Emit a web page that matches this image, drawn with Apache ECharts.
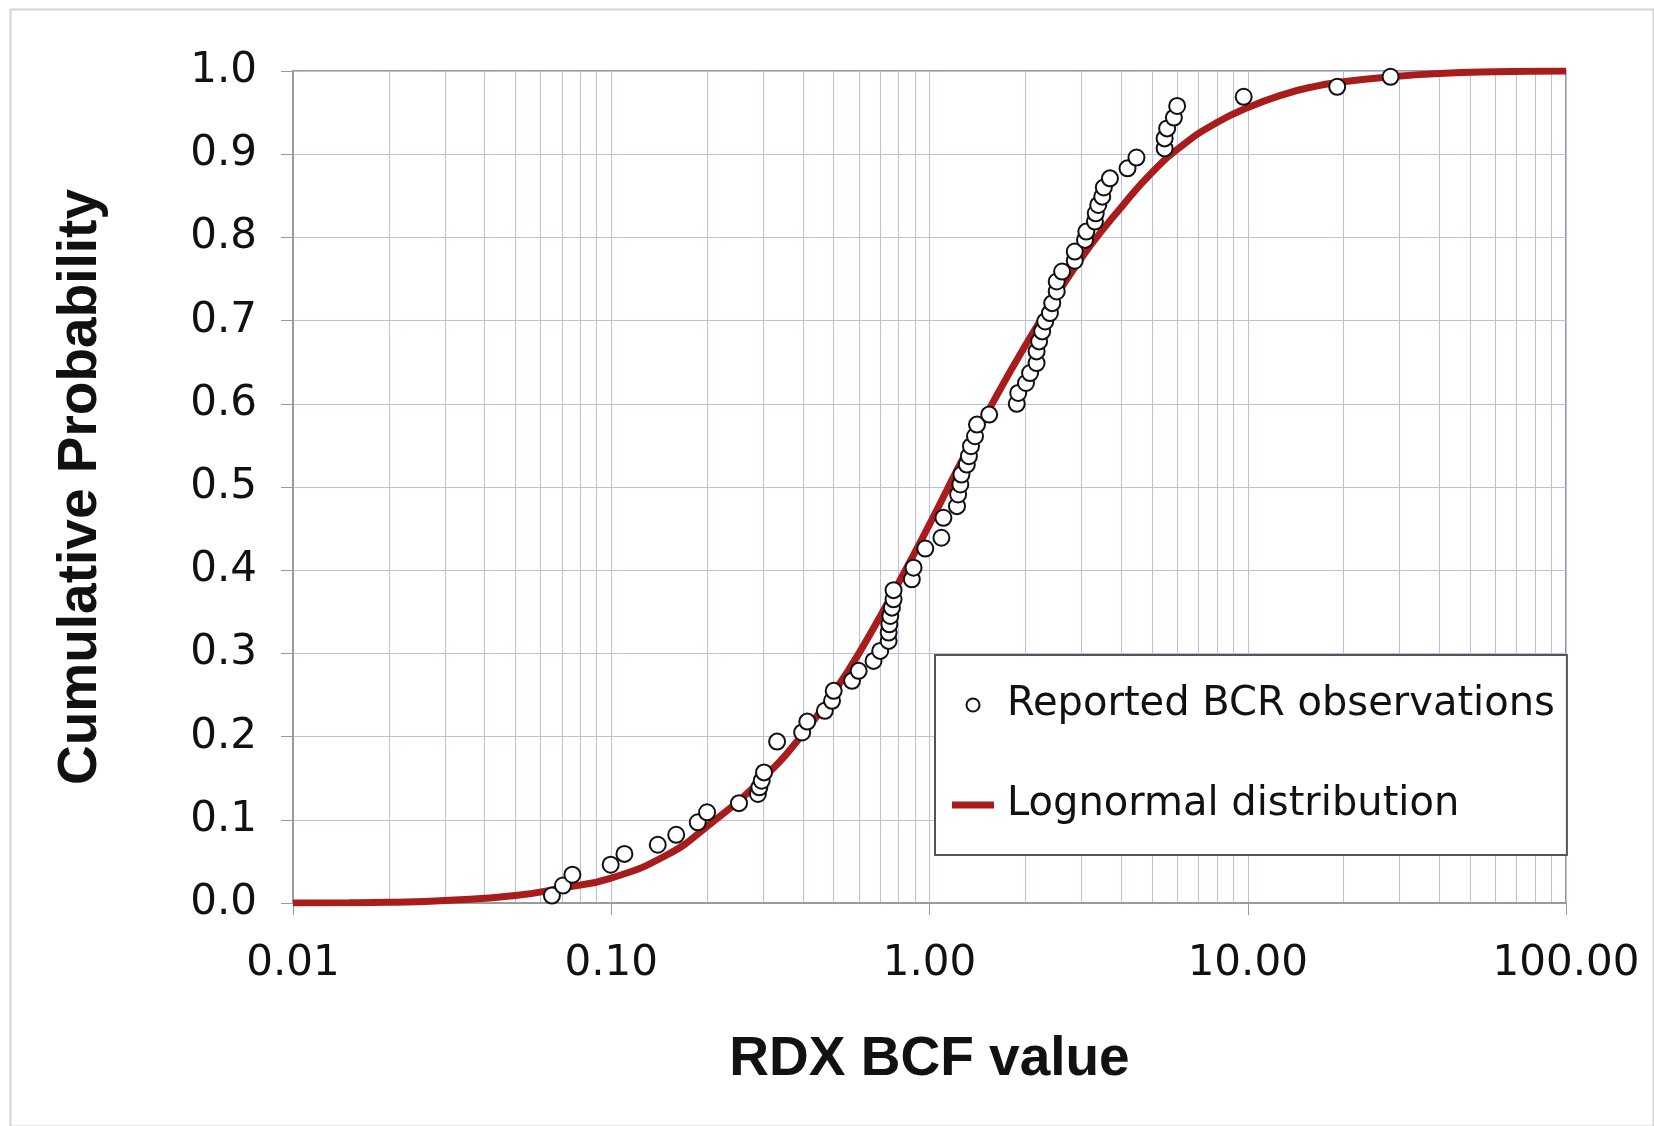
<!DOCTYPE html>
<html>
<head>
    <meta charset="UTF-8">
    <title>RDX BCF</title>
    <script src="https://cdn.jsdelivr.net/npm/echarts@6/dist/echarts.min.js"></script>
    <style>
        html, body { margin: 0; padding: 0; background: #fff; }
    </style>
</head>
<body>
<div id="chart" style="width:1654px;height:1126px;"></div>
<script>
    // observed BCF values and their cumulative probability
    var obsX = [0.0651, 0.0705, 0.0755, 0.0996, 0.110, 0.140, 0.160, 0.187, 0.200, 0.252,
        0.289, 0.292, 0.297, 0.302, 0.332, 0.398, 0.413, 0.469, 0.494, 0.500,
        0.571, 0.599, 0.667, 0.700, 0.744, 0.744, 0.748, 0.753, 0.762, 0.771,
        0.771, 0.880, 0.891, 0.970, 1.09, 1.106, 1.22, 1.23, 1.25, 1.26,
        1.31, 1.33, 1.35, 1.39, 1.41, 1.54, 1.88, 1.90, 2.01, 2.07,
        2.17, 2.17, 2.21, 2.26, 2.31, 2.39, 2.43, 2.51, 2.51, 2.61,
        2.86, 2.86, 3.08, 3.11, 3.31, 3.33, 3.39, 3.49, 3.53, 3.69,
        4.19, 4.47, 5.48, 5.48, 5.58, 5.86, 6.00, 9.71, 19.1, 28.1];
    var obsY = [0.009, 0.021, 0.034, 0.046, 0.059, 0.070, 0.082, 0.097, 0.109, 0.120,
        0.131, 0.139, 0.147, 0.157, 0.194, 0.205, 0.218, 0.231, 0.243, 0.255,
        0.267, 0.279, 0.291, 0.303, 0.315, 0.325, 0.335, 0.345, 0.355, 0.365,
        0.376, 0.389, 0.403, 0.426, 0.439, 0.463, 0.477, 0.491, 0.503, 0.515,
        0.527, 0.537, 0.549, 0.561, 0.575, 0.587, 0.600, 0.613, 0.625, 0.637,
        0.649, 0.663, 0.675, 0.687, 0.699, 0.709, 0.721, 0.735, 0.747, 0.759,
        0.772, 0.783, 0.797, 0.807, 0.819, 0.829, 0.839, 0.849, 0.860, 0.871,
        0.883, 0.896, 0.907, 0.919, 0.931, 0.944, 0.958, 0.969, 0.981, 0.993];

    // fitted lognormal curve
    var fitX = [0.01, 0.015, 0.02, 0.03, 0.05, 0.07, 0.1, 0.15, 0.2, 0.3, 0.4, 0.5, 0.6, 0.8,
        1.0, 1.25, 1.6, 2.0, 2.5, 3.2, 4.0, 5.0, 6.3, 8.0, 10, 13, 16, 20, 28, 40, 60, 100];
    var fitY = [0.0, 0.0002, 0.0008, 0.003, 0.009, 0.018, 0.030, 0.058, 0.092, 0.15, 0.203, 0.253, 0.30, 0.385,
        0.455, 0.528, 0.605, 0.67, 0.73, 0.79, 0.836, 0.878, 0.912, 0.938, 0.956, 0.972, 0.981, 0.987, 0.993, 0.997, 0.999, 1.0];

    var obsData = obsX.map(function (x, i) { return [x, obsY[i]]; });
    var fitData = fitX.map(function (x, i) { return [x, fitY[i]]; });

    var gridColor = '#bdbde8';
    var frameColor = '#9a9a9a';
    var curveColor = '#a81c1c';

    var myChart = echarts.init(document.getElementById('chart'));
    var option = {
        backgroundColor: '#fff',
        animation: false,
        graphic: [{
            type: 'rect',
            left: 8, top: 7,
            shape: { width: 1643, height: 1117 },
            style: { fill: 'none', stroke: '#d4d4d4', lineWidth: 2 },
            silent: true
        }],
        grid: {
            left: 293, right: 88, top: 71, bottom: 223,
            show: true,
            borderColor: frameColor,
            borderWidth: 2,
            backgroundColor: '#fff'
        },
        legend: {
            orient: 'vertical',
            left: 935,
            top: 655,
            padding: [27, 12, 27, 17],
            itemGap: 54,
            itemWidth: 42,
            itemHeight: 13,
            borderColor: '#555',
            borderWidth: 2,
            backgroundColor: '#fff',
            textStyle: {
                fontFamily: 'DejaVu Sans',
                fontSize: 40,
                color: '#111',
                lineHeight: 46,
                padding: [0, 0, 0, 8]
            },
            data: [
                { name: 'Reported BCR observations', icon: 'circle' },
                { name: 'Lognormal distribution', icon: 'path://M0,0H42V7H0Z',
                  itemStyle: { color: curveColor, borderWidth: 0 } }
            ]
        },
        xAxis: {
            type: 'log',
            logBase: 10,
            min: 0.01,
            max: 100,
            name: 'RDX BCF value',
            nameLocation: 'middle',
            nameGap: 129,
            nameTextStyle: {
                fontFamily: 'Liberation Sans',
                fontWeight: 'bold',
                fontSize: 55,
                color: '#111'
            },
            axisLine: { show: true, lineStyle: { color: frameColor, width: 2 } },
            axisTick: { show: true, length: 12, lineStyle: { color: frameColor } },
            axisLabel: {
                margin: 40,
                fontFamily: 'DejaVu Sans',
                fontSize: 42,
                color: '#111',
                formatter: function (v) { return v.toFixed(2); }
            },
            splitLine: { show: true, lineStyle: { color: gridColor, width: 1 } },
            minorTick: { show: false, splitNumber: 9 },
            minorSplitLine: { show: true, lineStyle: { color: gridColor, width: 1 } }
        },
        yAxis: {
            type: 'value',
            min: 0,
            max: 1,
            interval: 0.1,
            name: 'Cumulative Probability',
            nameLocation: 'middle',
            nameRotate: 90,
            nameGap: 185,
            nameTextStyle: {
                fontFamily: 'Liberation Sans',
                fontWeight: 'bold',
                fontSize: 55,
                color: '#111'
            },
            axisLine: { show: true, lineStyle: { color: frameColor, width: 2 } },
            axisTick: { show: true, length: 12, lineStyle: { color: frameColor } },
            axisLabel: {
                margin: 36,
                fontFamily: 'DejaVu Sans',
                fontSize: 42,
                color: '#111',
                formatter: function (v) { return v.toFixed(1); }
            },
            splitLine: { show: true, lineStyle: { color: gridColor, width: 1 } }
        },
        series: [{
            name: 'Lognormal distribution',
            type: 'line',
            data: fitData,
            smooth: true,
            symbol: 'none',
            z: 2,
            lineStyle: { color: curveColor, width: 7 },
            itemStyle: { color: curveColor }
        }, {
            name: 'Reported BCR observations',
            type: 'scatter',
            data: obsData,
            symbol: 'circle',
            symbolSize: 16,
            z: 3,
            itemStyle: { color: '#fff', borderColor: '#111', borderWidth: 2, opacity: 1 }
        }]
    };

    myChart.setOption(option);
</script>
</body>
</html>
